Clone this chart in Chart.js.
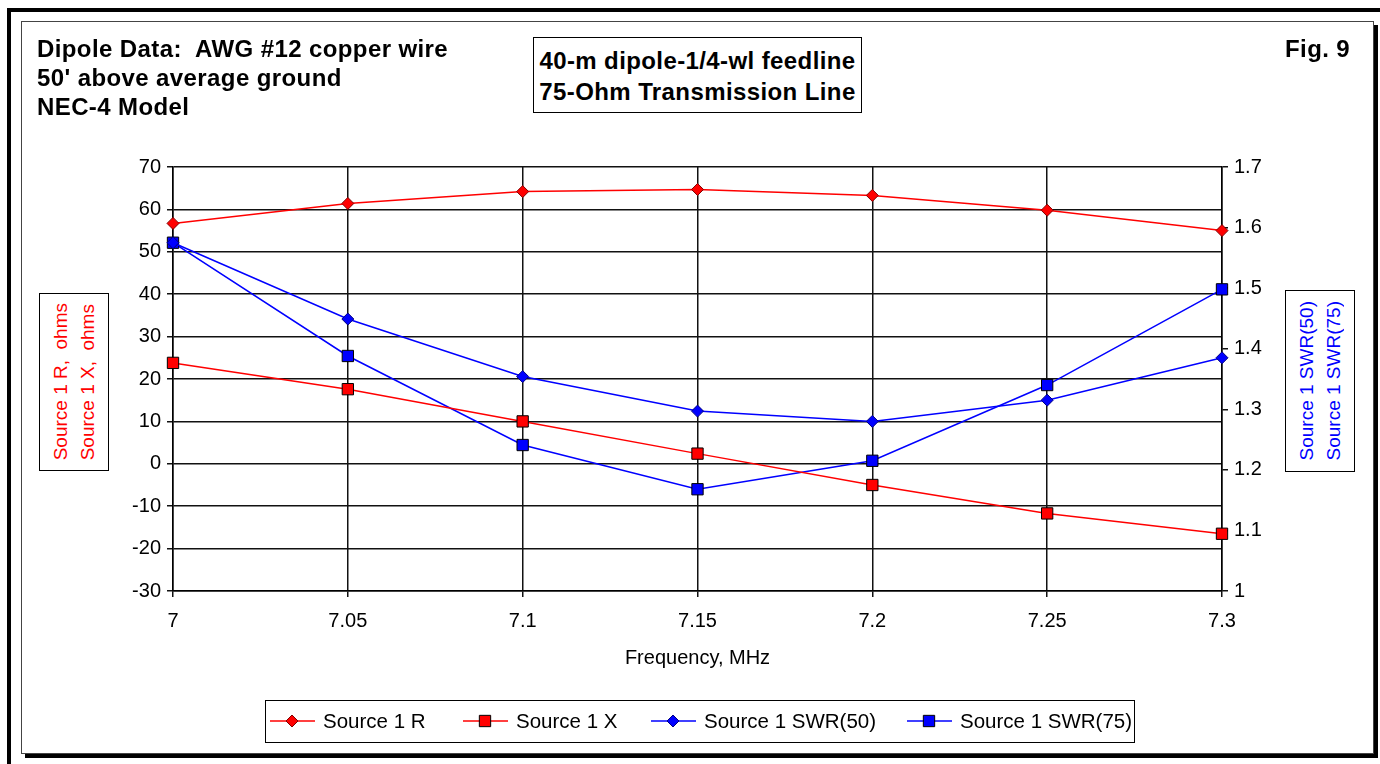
<!DOCTYPE html>
<html lang="en">
<head>
<meta charset="UTF-8">
<title>Dipole Data - Fig. 9</title>
<script src="https://cdn.jsdelivr.net/npm/chart.js"></script>
<style>
  html, body { margin: 0; padding: 0; background: #fff; }
  body { width: 1380px; height: 764px; position: relative; overflow: hidden;
         font-family: "Liberation Sans", Arial, sans-serif; }
  .bar { position: absolute; background: #000; }
  #frame { position: absolute; left: 21px; top: 21px; width: 1351px; height: 731px;
           border: 1px solid #444; box-shadow: 4px 4px 0 #000; }
  #chart { position: absolute; left: 0; top: 0; }
  .note { position: absolute; font-weight: bold; font-size: 24px; letter-spacing: 0.4px;
          color: #000; line-height: 29px; }
  .box { position: absolute; border: 1px solid #000; background: #fff; }
  .vbox { display: flex; align-items: center; justify-content: center; }
  .vtext { writing-mode: vertical-rl; transform: rotate(180deg); white-space: pre;
           font-size: 19px; line-height: 27px; }
</style>
</head>
<body>
  <div class="bar" style="left:7px; top:8px; width:1373px; height:4px;"></div>
  <div class="bar" style="left:7px; top:8px; width:4px; height:756px;"></div>
  <div id="frame"></div>

  <canvas id="chart" width="1380" height="764"></canvas>

  <div class="note" style="left:37px; top:34px;">Dipole Data:&nbsp; AWG #12 copper wire<br>50' above average ground<br>NEC-4 Model</div>
  <div class="box note" style="left:533px; top:37px; width:329px; height:76px; text-align:center; line-height:31px; padding-top:7px; box-sizing:border-box;">40-m dipole-1/4-wl feedline<br>75-Ohm Transmission Line</div>
  <div class="note" style="left:1285px; top:34px;">Fig. 9</div>

  <div class="box vbox" style="left:39px; top:293px; width:68px; height:176px;">
    <div class="vtext" style="color:#ff0000;">Source 1 R,  ohms
Source 1 X,  ohms</div>
  </div>
  <div class="box vbox" style="left:1285px; top:290px; width:68px; height:180px;">
    <div class="vtext" style="color:#0000ff;">Source 1 SWR(50)
Source 1 SWR(75)</div>
  </div>

<script>
// frequencies (MHz)
const freq = [7, 7.05, 7.1, 7.15, 7.2, 7.25, 7.3];
// left axis, ohms
const srcR = [56.7, 61.4, 64.2, 64.7, 63.3, 59.8, 55.0];
const srcX = [23.8, 17.6, 10.0, 2.4, -5.0, -11.7, -16.5];
// right axis, SWR
const swr50 = [1.575, 1.449, 1.354, 1.297, 1.280, 1.315, 1.385];
const swr75 = [1.575, 1.388, 1.241, 1.168, 1.215, 1.340, 1.498];

const seriesNames = ['Source 1 R', 'Source 1 X', 'Source 1 SWR(50)', 'Source 1 SWR(75)'];

const pts = vals => vals.map((v, i) => ({ x: freq[i], y: v }));
const FONT = { family: '"Liberation Sans", Arial, sans-serif', size: 20 };

function mkSet(label, vals, color, style, edge, axis) {
  return {
    label: label,
    data: pts(vals),
    yAxisID: axis,
    clip: false,
    borderColor: color,
    backgroundColor: color,
    borderWidth: 1.5,
    pointStyle: style,
    pointRadius: style === 'rect' ? 8 : 6,
    pointBorderColor: edge,
    pointBackgroundColor: color,
    pointBorderWidth: 1,
    tension: 0
  };
}

// marker drawing for the boxed legend
function marker(ctx, ds, x, y) {
  ctx.fillStyle = ds.pointBackgroundColor;
  ctx.strokeStyle = ds.pointBorderColor;
  ctx.lineWidth = 1;
  ctx.beginPath();
  if (ds.pointStyle === 'rect') {
    const s = ds.pointRadius * Math.SQRT1_2;
    ctx.rect(x - s, y - s, 2 * s, 2 * s);
  } else {
    const r = ds.pointRadius;
    ctx.moveTo(x, y - r); ctx.lineTo(x + r, y); ctx.lineTo(x, y + r); ctx.lineTo(x - r, y);
    ctx.closePath();
  }
  ctx.fill();
  ctx.stroke();
}

const legendBox = {
  id: 'legendBox',
  afterDraw(chart) {
    const ctx = chart.ctx;
    const cx = [292, 485, 673, 929];
    const cy = 721;
    ctx.save();
    ctx.strokeStyle = '#000';
    ctx.lineWidth = 1;
    ctx.strokeRect(265.5, 700.5, 869, 42);
    ctx.font = '20.5px ' + FONT.family;
    ctx.textBaseline = 'middle';
    chart.data.datasets.forEach((ds, i) => {
      ctx.strokeStyle = ds.borderColor;
      ctx.lineWidth = ds.borderWidth;
      ctx.beginPath();
      ctx.moveTo(cx[i] - 22, cy);
      ctx.lineTo(cx[i] + 23, cy);
      ctx.stroke();
      marker(ctx, ds, cx[i], cy);
      ctx.fillStyle = '#000';
      ctx.fillText(ds.label, cx[i] + 31, cy + 1);
    });
    ctx.restore();
  }
};

const fmt = v => String(+Number(v).toFixed(2));

new Chart(document.getElementById('chart'), {
  type: 'line',
  data: {
    datasets: [
      mkSet(seriesNames[0], srcR, '#ff0000', 'rectRot', '#800000', 'y'),
      mkSet(seriesNames[1], srcX, '#ff0000', 'rect', '#000000', 'y'),
      mkSet(seriesNames[2], swr50, '#0000ff', 'rectRot', '#000080', 'y1'),
      mkSet(seriesNames[3], swr75, '#0000ff', 'rect', '#000000', 'y1')
    ]
  },
  options: {
    responsive: false,
    animation: false,
    layout: { padding: { top: 167, left: 0, right: 0, bottom: 0 } },
    plugins: {
      legend: { display: false },
      tooltip: { enabled: false }
    },
    scales: {
      x: {
        type: 'linear',
        min: 7, max: 7.3,
        ticks: { stepSize: 0.05, color: '#000', font: FONT, padding: 12, callback: fmt, maxRotation: 0 },
        grid: { color: '#111', lineWidth: 1.5, tickLength: 6 },
        border: { color: '#000', width: 1.5 },
        title: { display: true, text: 'Frequency, MHz', color: '#000', font: FONT,
                 padding: { top: 0, bottom: 94 } },
        afterFit: s => { s.height = 173; }
      },
      y: {
        position: 'left',
        min: -30, max: 70,
        ticks: { stepSize: 10, color: '#000', font: FONT, padding: 6 },
        grid: { color: '#111', lineWidth: 1.5, tickLength: 6 },
        border: { color: '#000', width: 1.5 },
        afterFit: s => { s.width = 173; }
      },
      y1: {
        position: 'right',
        min: 1, max: 1.7,
        ticks: { stepSize: 0.1, color: '#000', font: FONT, padding: 6, callback: fmt },
        grid: { drawOnChartArea: false, color: '#111', lineWidth: 1.5, tickLength: 6 },
        border: { color: '#000', width: 1.5 },
        afterFit: s => { s.width = 158; }
      }
    }
  },
  plugins: [legendBox]
});
</script>
</body>
</html>
